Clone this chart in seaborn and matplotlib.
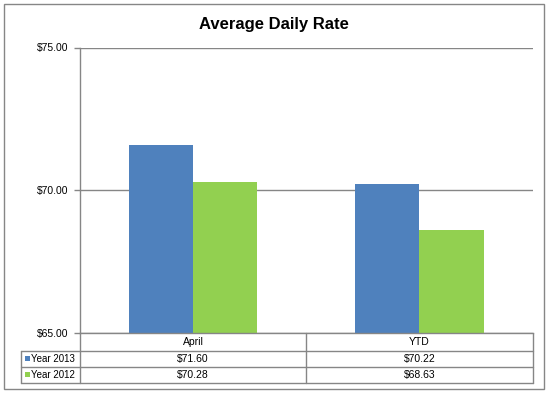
import matplotlib
matplotlib.use("Agg")
import matplotlib.pyplot as plt
import matplotlib.transforms as mtransforms
from matplotlib.lines import Line2D
from matplotlib.patches import Rectangle
from matplotlib.ticker import FuncFormatter
import pandas as pd
import seaborn as sns

# data
categories = ["April", "YTD"]
series_names = ["Year 2013", "Year 2012"]
year_2013 = [71.60, 70.22]
year_2012 = [70.28, 68.63]
y_ticks = [65, 70, 75]

BLUE = "#4F81BD"
GREEN = "#92D050"
GRAY = "#868686"
FS = 7.5

W, H = 547, 393
sns.set_theme(style="white")
plt.rcParams["font.family"] = ["Liberation Sans", "DejaVu Sans"]


def fx(px):
    return px / W


def fy(py):
    return 1 - py / H


fig = plt.figure(figsize=(W / 100, H / 100), dpi=100)
fig.patch.set_facecolor("white")

# plot area (pixel bounds)
left, right, top, bottom = 80, 532.5, 47.5, 333.3
ax = fig.add_axes([fx(left), fy(bottom), fx(right) - fx(left), fy(top) - fy(bottom)])

df = pd.DataFrame({
    "category": categories * 2,
    "series": [s for s in series_names for _ in categories],
    "value": year_2013 + year_2012,
})
sns.barplot(data=df, x="category", y="value", hue="series",
            order=categories, hue_order=series_names,
            palette=[BLUE, GREEN], saturation=1, width=0.568,
            linewidth=0, legend=False, ax=ax)

ax.set_xlim(-0.5, len(categories) - 0.5)
ax.set_ylim(y_ticks[0], y_ticks[-1])
ax.set_yticks(y_ticks)
ax.yaxis.set_major_formatter(FuncFormatter(lambda v, _: f"${v:.2f}"))
ax.set_xticks([])
ax.set_xlabel("")
ax.set_ylabel("")
ax.yaxis.grid(True, color=GRAY, lw=1)
ax.set_axisbelow(True)
ax.tick_params(axis="y", which="major", left=True, length=4, width=1,
               color=GRAY, labelsize=FS, labelcolor="black", pad=4)
for side in ["top", "right"]:
    ax.spines[side].set_visible(False)
for side in ["left", "bottom"]:
    ax.spines[side].set_color(GRAY)
    ax.spines[side].set_linewidth(1)

# title
fig.text(fx(273.5), fy(24.5), "Average Daily Rate", ha="center", va="center",
         fontsize=12, fontweight="bold", color="black")

# data table below the axis
row_y = [333.3, 350.7, 366.7, 382.7]
tab_left = 21


def hline(x0, x1, y):
    fig.add_artist(Line2D([fx(x0), fx(x1)], [fy(y), fy(y)],
                          transform=fig.transFigure, color=GRAY, lw=1))


def vline(x, y0, y1, transform=None):
    fig.add_artist(Line2D([x, x], [fy(y0), fy(y1)],
                          transform=transform, color=GRAY, lw=1))


hline(tab_left, right, row_y[1])
hline(tab_left, right, row_y[2])
hline(tab_left, right, row_y[3])
vline(fx(tab_left), row_y[1], row_y[3], fig.transFigure)
vline(fx(left), row_y[0], row_y[3], fig.transFigure)
vline(fx(right), row_y[0], row_y[3], fig.transFigure)

blend = mtransforms.blended_transform_factory(ax.transData, fig.transFigure)
for i in range(len(categories) - 1):
    vline(i + 0.5, row_y[0], row_y[3], blend)

for i, cat in enumerate(categories):
    fig.text(i, fy((row_y[0] + row_y[1]) / 2), cat, transform=blend,
             ha="center", va="center", fontsize=FS, color="black")

for r, (name, vals, col) in enumerate(zip(series_names, [year_2013, year_2012], [BLUE, GREEN])):
    yc = (row_y[r + 1] + row_y[r + 2]) / 2
    fig.add_artist(Rectangle((fx(25), fy(yc + 2.5)), fx(5), 5 / H,
                             transform=fig.transFigure, facecolor=col, edgecolor="none"))
    fig.text(fx(31), fy(yc), name, ha="left", va="center", fontsize=7, color="black")
    for i, v in enumerate(vals):
        fig.text(i, fy(yc), f"${v:.2f}", transform=blend,
                 ha="center", va="center", fontsize=FS, color="black")

# outer chart border
fig.add_artist(Rectangle((fx(3.5), fy(389)), fx(540), (389 - 3.5) / H,
                         transform=fig.transFigure, fill=False, edgecolor=GRAY, lw=1))

fig.savefig("out.png", dpi=100)
